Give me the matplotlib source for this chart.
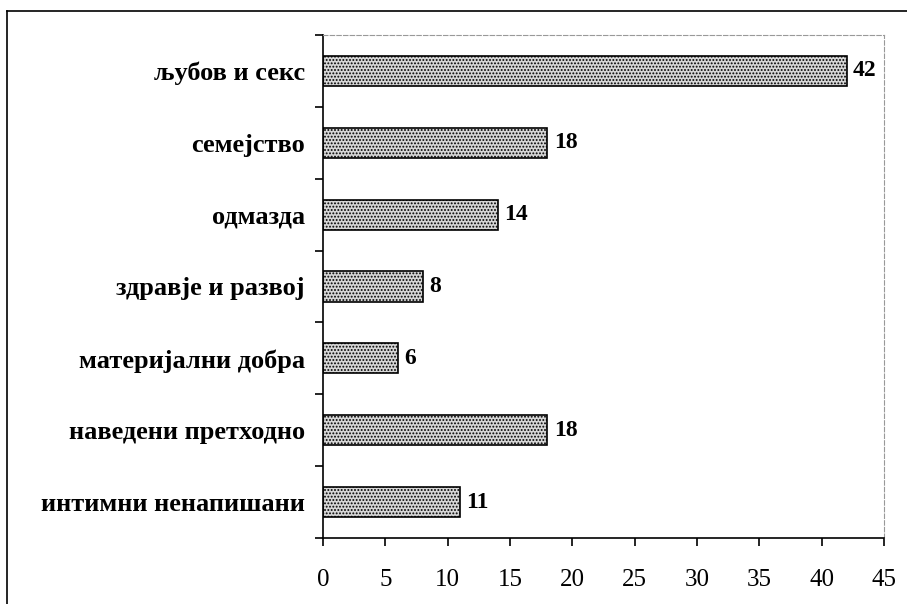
import matplotlib
matplotlib.use("Agg")
import matplotlib.pyplot as plt
from matplotlib.lines import Line2D
import numpy as np

categories = ["љубов и секс", "семејство", "одмазда", "здравје и развој",
              "материјални добра", "наведени претходно", "интимни ненапишани"]
values = [42, 18, 14, 8, 6, 18, 11]
xticks = [0, 5, 10, 15, 20, 25, 30, 35, 40, 45]

plt.rcParams['hatch.color'] = '#808080'
plt.rcParams['hatch.linewidth'] = 0.9

W, H = 907, 604
fig = plt.figure(figsize=(W/100, H/100), dpi=100)
ax = fig.add_axes([323/W, 1-538/H, (884-323)/W, (538-35)/H])

n = len(categories)
ypos = np.arange(n)[::-1]
ax.barh(ypos, values, height=0.42, color='#d6d6d6', edgecolor='black',
        linewidth=1.2, hatch='.....')
for y, v in zip(ypos, values):
    ax.text(v + 0.5, y, str(v), va='center', ha='left', fontsize=17,
            fontweight='bold', family='Liberation Serif')

ax.set_xlim(0, 45)
ax.set_ylim(-0.5, n - 0.5)
ax.set_xticks(xticks)
ax.set_xticklabels([str(t) for t in xticks], family='Liberation Serif', fontsize=18)
ax.set_yticks(ypos)
ax.set_yticklabels(categories, family='Liberation Serif', fontsize=19, fontweight='bold')
ax.tick_params(axis='y', length=0, pad=13)
ax.set_yticks(np.arange(-0.5, n, 1.0), minor=True)
ax.tick_params(axis='y', which='minor', length=6, width=1.2, direction='out')
ax.tick_params(axis='x', length=6, width=1.2, direction='out', pad=16)

for s in ['top', 'right']:
    ax.spines[s].set_linestyle((0, (4, 2)))
    ax.spines[s].set_color('#999999')
    ax.spines[s].set_linewidth(0.8)
for s in ['left', 'bottom']:
    ax.spines[s].set_linewidth(1.2)

fig.add_artist(Line2D([7/W, 1.0], [1-11/H, 1-11/H], transform=fig.transFigure,
                      color='black', linewidth=1.2))
fig.add_artist(Line2D([7/W, 7/W], [0.0, 1-11/H], transform=fig.transFigure,
                      color='black', linewidth=1.2))

fig.savefig("out.png", dpi=100)
